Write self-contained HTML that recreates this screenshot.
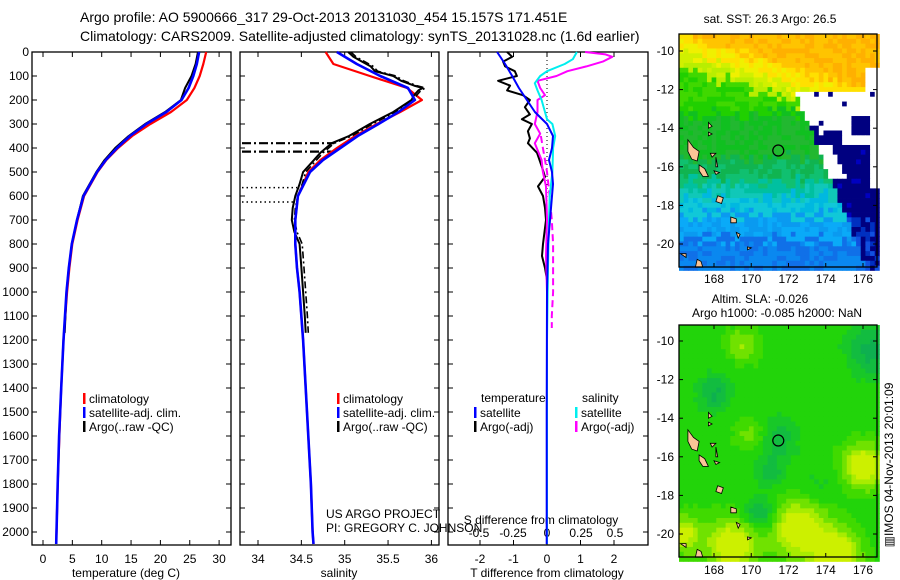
<!DOCTYPE html>
<html><head><meta charset="utf-8"><style>
html,body{margin:0;padding:0;background:#fff;}
svg{display:block;font-family:"Liberation Sans",sans-serif;}
</style></head><body>
<svg id="fig" width="900" height="580" viewBox="0 0 900 580" xmlns="http://www.w3.org/2000/svg">
<text x="80" y="22" font-size="14">Argo profile: AO 5900666_317 29-Oct-2013 20131030_454 15.157S 171.451E</text>
<text x="80" y="41" font-size="14">Climatology: CARS2009. Satellite-adjusted climatology: synTS_20131028.nc (1.6d earlier)</text>
<text x="770" y="23" font-size="12" text-anchor="middle">sat. SST: 26.3 Argo: 26.5</text>
<text x="760" y="303" font-size="12" text-anchor="middle">Altim. SLA: -0.026</text>
<text x="777" y="317" font-size="12" text-anchor="middle">Argo h1000: -0.085 h2000: NaN</text>
<text transform="translate(893,465) rotate(-90)" font-size="12" text-anchor="middle">▥IMOS 04-Nov-2013 20:01:09</text>
<g id="layer"></g>
</svg>
<script>
// ---- Panel 1: temperature ----
const depthT = [0,50,100,150,200,250,300,350,400,450,500,600,700,800,900,1000,1200,1400,1600,1800,2000,2050];
const tempClim = [27.8,27.3,26.7,25.8,24.5,21.8,18.3,15.2,12.8,10.8,9.3,7.0,5.9,5.0,4.5,4.1,3.5,3.1,2.8,2.5,2.3,2.25];
const tempSat = [26.6,26.2,25.6,24.8,23.6,21.0,17.6,14.8,12.6,10.7,9.2,6.9,5.8,4.9,4.4,4.0,3.5,3.1,2.75,2.5,2.3,2.25];
const depthTArgo = [0,50,100,150,200,250,300,350,400,450,500,600,700,800,900,1000,1170];
const tempArgo = [26.4,26.0,25.3,24.2,23.5,20.8,17.4,14.6,12.3,10.5,9.1,6.8,5.8,4.9,4.4,4.0,3.7];
const tempTicks = [0,5,10,15,20,25,30];
const depthTicks = [0,100,200,300,400,500,600,700,800,900,1000,1100,1200,1300,1400,1500,1600,1700,1800,1900,2000];
// ---- Panel 2: salinity ----
const depthS = [0,50,100,150,200,250,300,350,400,450,500,600,700,800,900,1000,1200,1400,1600,1800,2000,2050];
const salClim = [34.78,34.87,35.29,35.72,35.89,35.64,35.37,35.12,34.91,34.72,34.58,34.46,34.43,34.43,34.45,34.48,34.52,34.55,34.58,34.61,34.63,34.64];
const salSat = [34.91,35.14,35.41,35.73,35.81,35.62,35.39,35.15,34.95,34.75,34.60,34.46,34.43,34.43,34.45,34.48,34.52,34.55,34.58,34.61,34.63,34.64];
const depthSArgo = [0,20,40,60,80,100,120,140,150,160,180,200,250,300,350,380,420,460,500,550,600,650,700,750,800,900,1000,1100,1170];
const salArgo = [35.04,35.1,35.2,35.3,35.35,35.56,35.65,35.8,35.9,35.85,35.8,35.77,35.56,35.29,35.05,34.85,34.72,34.62,34.52,34.48,34.43,34.40,34.39,34.42,34.48,34.50,34.52,34.54,34.55];
const salTicks = [34,34.5,35,35.5,36];
const qcDashDepths = [380,415];
const qcDotDepths = [565,625];
// ---- Panel 3: differences ----
const depthDT = [0,50,100,150,200,250,300,350,400,450,500,550,600,700,800,1000,1500,2050];
const dTSat = [-1.49,-1.25,-1.04,-0.84,-0.6,-0.36,0,0.18,0.15,0.06,0.15,0.18,0.15,0.09,0.03,0,-0.01,-0.01];
const depthDTArgo = [0,20,40,60,80,100,120,140,160,180,200,230,260,280,300,330,360,380,420,480,520,560,600,650,700,800,850,900,950,980];
const dTArgo = [-1.19,-1.04,-1.31,-1.25,-0.96,-0.9,-1.46,-1.1,-1.19,-0.72,-0.51,-0.66,-0.51,-0.75,-0.45,-0.57,-0.51,-0.57,-0.3,-0.15,-0.06,-0.27,-0.12,-0.06,-0.03,-0.12,-0.15,-0.06,0,0];
const depthDS = [0,30,50,80,100,130,160,200,250,280,300,350,400,500,600,700,900,1200,2050];
const dSSat = [0.22,0.19,0.13,0,-0.05,-0.09,-0.07,-0.04,-0.015,0,0.04,0.06,0.045,0.04,0.02,0.015,0.007,0,0];
const depthDSArgo = [0,10,20,40,60,80,100,120,150,180,200,250,300,340,380,450,500,560,700,850,1000];
const dSArgo = [0.28,0.43,0.48,0.41,0.29,0.15,0.07,-0.07,-0.05,-0.015,-0.07,-0.07,-0.09,-0.05,-0.09,-0.04,-0.03,-0.007,0,-0.007,0];
const depthDSAdj = [350,400,450,500,600,700,800,900,1000,1100,1150];
const dSAdj = [-0.045,-0.03,-0.015,0,0.02,0.035,0.045,0.045,0.045,0.035,0.035];
const dTTicks = [-2,-1,0,1,2];
const dSTicks = [-0.5,-0.25,0,0.25,0.5];
const dSTickLabels = ["-0.5","-0.25","0","0.25","0.5"];
// ---- Maps ----
const lonTicks = [168,170,172,174,176];
const latTicks = [-10,-12,-14,-16,-18,-20];
const argoLon = 171.451, argoLat = -15.157;

const NS="http://www.w3.org/2000/svg";
const layer=document.getElementById('layer');
function el(tag,attrs,parent){const e=document.createElementNS(NS,tag);for(const k in attrs)e.setAttribute(k,attrs[k]);(parent||layer).appendChild(e);return e;}

const yTop=52, yPx=0.24;
const yD=d=>yTop+d*yPx;
const xT=t=>43+t*5.87;
const xS=s=>258+(s-34)*86.7;
const xDT=t=>547+t*33.5;
const xDS=s=>547+s*136;
const yB=545;

function frame(x0,x1,name){
  const r=el('rect',{x:x0,y:yTop,width:x1-x0,height:yB-yTop,fill:'none',stroke:'#000','stroke-width':1.3});
  
  
  depthTicks.forEach(d=>{
    el('line',{x1:x0,x2:x0+5,y1:yD(d),y2:yD(d),stroke:'#000'});
    el('line',{x1:x1,x2:x1-5,y1:yD(d),y2:yD(d),stroke:'#000'});
  });
}
function line(xs,ds,fx,color,w,name,dash){
  const pts=xs.map((v,i)=>fx(v).toFixed(1)+','+yD(ds[i]).toFixed(1)).join(' ');
  const p=el('polyline',{points:pts,fill:'none',stroke:color,'stroke-width':w,'stroke-linejoin':'round'});
  if(dash)p.setAttribute('stroke-dasharray',dash);
  
  
}
function txt(x,y,s,size,anchor,name){
  const t=el('text',{x:x,y:y,'font-size':size,'text-anchor':anchor||'start'});
  t.textContent=s;
  
  
  return t;
}
function xticks(vals,fx,labels,name,ly){
  vals.forEach((v,i)=>{
    const x=fx(v);
    el('line',{x1:x,x2:x,y1:yB,y2:yB-5,stroke:'#000'});
    el('line',{x1:x,x2:x,y1:yTop,y2:yTop+5,stroke:'#000'});
    txt(x,ly,labels?labels[i]:String(v),12,'middle',name);
  });
}
function legend(x,y,items,name){
  items.forEach((it,i)=>{
    const r=el('rect',{x:x,y:y+i*14-10,width:2.5,height:11,fill:it[0]});
    
    
    txt(x+6,y+i*14,it[1],12,'start',name+'-label');
  });
}

// Panel 1
frame(32,231,'temperature-panel');
depthTicks.forEach(d=>txt(29,yD(d)+4,String(d),12,'end','depth-tick-label'));
xticks(tempTicks,xT,null,'temperature-tick-label',563);
txt(126,577,'temperature (deg C)',12,'middle','temperature-axis-title');
line(tempClim,depthT,xT,'#f00',2.2,'temp-climatology-line');
line(tempArgo,depthTArgo,xT,'#000',2,'temp-argo-line');
line(tempSat,depthT,xT,'#00f',2.6,'temp-satellite-line');
legend(83,403,[['#f00','climatology'],['#00f','satellite-adj. clim.'],['#000','Argo(..raw -QC)']],'temp-legend');

// Panel 2
frame(240,439,'salinity-panel');
xticks(salTicks,xS,null,'salinity-tick-label',563);
txt(339,577,'salinity',12,'middle','salinity-axis-title');
qcDashDepths.forEach(d=>{const q=el('line',{x1:242,x2:xS(34.88),y1:yD(d),y2:yD(d),stroke:'#000','stroke-width':2.2,'stroke-dasharray':'9,3,2,3'});});
qcDotDepths.forEach(d=>{const q=el('line',{x1:242,x2:xS(34.45),y1:yD(d),y2:yD(d),stroke:'#000','stroke-width':1.5,'stroke-dasharray':'1.5,3'});});
line(salClim,depthS,xS,'#f00',2.2,'sal-climatology-line');
line(salArgo,depthSArgo,xS,'#000',2,'sal-argo-line');
line(salArgo.map(v=>v+0.03),depthSArgo,xS,'#000',1.6,'sal-argo-raw-line','7,3,2,3');
line(salSat,depthS,xS,'#00f',2.6,'sal-satellite-line');
legend(337,403,[['#f00','climatology'],['#00f','satellite-adj. clim.'],['#000','Argo(..raw -QC)']],'sal-legend');
txt(326,518,'US ARGO PROJECT',12,'start','credit-project');
txt(326,532,'PI: GREGORY C. JOHNSON',12,'start','credit-pi');

// Panel 3
frame(448,648,'difference-panel');
el('line',{x1:547,x2:547,y1:yTop,y2:yB,stroke:'#000','stroke-dasharray':'1,3'});
xticks(dTTicks,xDT,null,'t-diff-tick-label',563);
dSTicks.forEach((v,i)=>txt(xDS(v),537,dSTickLabels[i],12,'middle','s-diff-tick-label'));
txt(541,524,'S difference from climatology',12,'middle','s-diff-axis-title');
txt(547,577,'T difference from climatology',12,'middle','t-diff-axis-title');
line(dTArgo,depthDTArgo,xDT,'#000',2,'dt-argo-line');
line(dSArgo,depthDSArgo,xDS,'#f0f',2,'ds-argo-line');
line(dSAdj,depthDSAdj,xDS,'#f0f',2,'ds-argo-adj-line','7,4');
line(dSSat,depthDS,xDS,'#0ee',2,'ds-satellite-line');
line(dTSat,depthDT,xDT,'#00f',2,'dt-satellite-line');
txt(481,402,'temperature',12,'start','diff-legend-temperature-header');
txt(582,402,'salinity',12,'start','diff-legend-salinity-header');
legend(474,417,[['#00f','satellite'],['#000','Argo(-adj)']],'diff-legend-t');
legend(575,417,[['#0ee','satellite'],['#f0f','Argo(-adj)']],'diff-legend-s');

// Maps
function hash(i,j){let h=(i*374761393+j*668265263)^0x5bd1e995;h=(h^(h>>>13))*1274126177;return ((h^(h>>>16))>>>0)/4294967296;}
function makeMap(y0,y1,yLat10,yLat20,colorFn,name,labY){
  const x0=679,x1=877;
  const lx=lon=>714+(lon-168)*18.625;
  const ly=lat=>yLat10+(-10-lat)*(yLat20-yLat10)/10;
  const g=el('g',{});
  
  
  const cw=4.66, ch=(yLat20-yLat10)/40;
  for(let j=0;y0+j*ch<y1;j++){
    for(let i=0;x0+i*cw<x1;i++){
      const lon=166.12+(i+0.5)*cw/18.625;
      const lat=-10+(yLat10-(y0+(j+0.5)*ch))*10/(yLat20-yLat10);
      el('rect',{x:(x0+i*cw).toFixed(2),y:(y0+j*ch).toFixed(2),width:(cw+0.4).toFixed(2),height:(ch+0.4).toFixed(2),fill:colorFn(lon,lat,hash(i,j+y0))},g);
    }
  }
  const isl=[[[166.6,-14.6],[166.9,-15.0],[167.2,-15.2],[167.1,-15.7],[166.8,-15.6],[166.6,-15.2]],
    [[167.2,-15.9],[167.5,-16.1],[167.7,-16.5],[167.4,-16.5],[167.2,-16.2]],
    [[168.2,-17.5],[168.5,-17.6],[168.4,-17.9],[168.1,-17.8]],
    [[168.9,-18.6],[169.2,-18.7],[169.2,-18.9],[168.9,-18.9]],
    [[169.2,-19.4],[169.4,-19.5],[169.3,-19.7]],
    [[167.7,-13.7],[167.9,-13.9],[167.7,-14.0]],[[167.7,-14.2],[167.9,-14.3],[167.7,-14.4]],
    [[167.8,-15.3],[168.1,-15.3],[167.9,-15.5]],[[168.1,-15.5],[168.2,-16.0],[168.1,-16.0]],
    [[168.0,-16.2],[168.3,-16.3],[168.1,-16.4]],
    [[166.2,-20.5],[166.5,-20.5],[166.5,-20.7]],[[167.1,-20.8],[167.3,-20.9],[167.4,-21.2],[167.0,-21.2]],
    [[169.8,-20.15],[170.0,-20.2],[169.8,-20.3]]];
  isl.forEach(p=>{const e=el('polygon',{points:p.map(q=>lx(q[0]).toFixed(1)+','+ly(q[1]).toFixed(1)).join(' '),fill:'#f9c496',stroke:'#000','stroke-width':0.8},g);});
  const c=el('circle',{cx:lx(argoLon),cy:ly(argoLat),r:5.5,fill:'none',stroke:'#000','stroke-width':1.2});
  
  
  const fr=el('rect',{x:x0,y:y0,width:x1-x0,height:y1-y0,fill:'none',stroke:'#000','stroke-width':1.3});
  
  
  lonTicks.forEach(v=>{const x=lx(v);el('line',{x1:x,x2:x,y1:y1,y2:y1-4,stroke:'#000'});el('line',{x1:x,x2:x,y1:y0,y2:y0+4,stroke:'#000'});txt(x,labY,String(v),12,'middle',name+'-lon-label');});
  latTicks.forEach(v=>{const y=ly(v);el('line',{x1:x0,x2:x0+4,y1:y,y2:y,stroke:'#000'});el('line',{x1:x1,x2:x1-4,y1:y,y2:y,stroke:'#000'});txt(674,y+4,String(v),12,'end',name+'-lat-label');});
}
function sstColor(lon,lat,n){
  const edge=172.4+(-12.2-lat)*0.42;
  if(lon>edge && lat<-12.1){
    if(lat>-14.8){
      if((lon>174&&lon<174.8&&lat<-14&&lat>-14.8)||(lon>175.4&&lon<176.5&&lat<-13.3&&lat>-14.3)||(lon<edge+0.4&&lat<-13.8)) return '#000080';
      return n<0.05?'#000080':'#ffffff';
    }
    if(lat>-16.6 && lon<edge+0.8) return '#ffffff';
    if(lon>175.4&&lon<176.4&&lat<-15.8&&lat>-16.7) return '#000080';
    if(lon>176.3&&lat>-17.2) return '#ffffff';
    if(lat>-18.5) return n<0.1?'#0000c0':'#000080';
    return n<0.35?'#0030c0':(n<0.7?'#000080':'#1050e0');
  }
  if(lon>175&&lon<175.7&&lat<-12.1&&lat>-13) return '#000080';
  if(lon>176.1&&lat<-10.8&&lat>-12.2) return '#ffffff';
  const u=lat+0.3*(lon-171)+(n-0.5)*0.8;
  if(u>-10.6) return n<0.5?'#ffb000':'#ffc400';
  if(u>-11.5) return n<0.5?'#ffe000':'#f0f000';
  if(u>-12.3) return n<0.5?'#d0f000':'#b8ee00';
  const l=lat+(n-0.5)*0.8;
  if(l>-13.2) return n<0.5?'#40d800':'#20d000';
  if(l>-15.6) return n<0.5?'#10c020':'#22b830';
  if(l>-16.8) return n<0.5?'#10b450':'#10c070';
  if(l>-17.6) return n<0.5?'#00c0a0':'#10c8b8';
  if(l>-18.5) return n<0.5?'#00b8e0':'#10c8d8';
  if(l>-19.8) return n<0.5?'#0a9af0':'#0aaaf8';
  return n<0.5?'#1070e8':'#0a88f0';
}
function slaColor(lon,lat,n){
  const blobs=[[176,-16.5,1.0,1],[172.5,-19.7,1.4,0.9],[169,-20.6,1.3,0.9],[174.5,-21,1.2,1],[166.4,-20,0.9,0.7],[169.5,-10.2,0.8,0.4],[170,-14.8,0.8,0.3],
    [170.5,-19,0.9,-0.5],[168,-12.7,1.0,-0.4],[171.5,-15,1.1,-0.35],[171,-16.8,0.9,-0.3],[176.5,-10.5,1.4,-0.45],[173.5,-17.5,1.2,-0.15]];
  let v=0;blobs.forEach(b=>{const d=((lon-b[0])**2+(lat-b[1])**2)/(b[2]*b[2]);v+=b[3]*Math.exp(-d);});
  v+=(n-0.5)*0.06;
  if(v>0.6) return '#ccf000';
  if(v>0.4) return '#a8ec00';
  if(v>0.2) return '#70e200';
  if(v>0.05) return '#40da00';
  if(v>-0.12) return '#22d40a';
  if(v>-0.25) return '#18c828';
  if(v>-0.38) return '#12bc40';
  return '#0eb050';
}
makeMap(34,267,51,244,sstColor,'sst-map',283);
makeMap(325,557,341,534,slaColor,'sla-map',574);
</script>
</body></html>
